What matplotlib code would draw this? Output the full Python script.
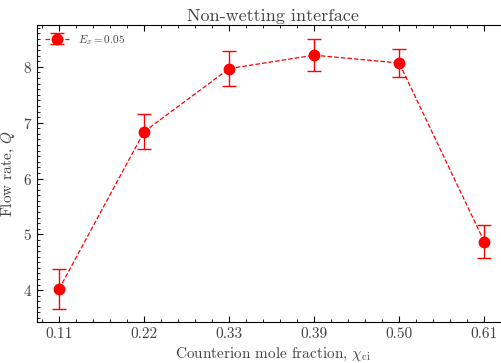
import matplotlib
matplotlib.use('Agg')
import matplotlib.pyplot as plt
from matplotlib.ticker import AutoMinorLocator

plt.rcParams['font.family'] = 'serif'
plt.rcParams['font.serif'] = ['cmr10', 'DejaVu Serif']
plt.rcParams['mathtext.fontset'] = 'cm'
plt.rcParams['axes.formatter.use_mathtext'] = True

# data
fractions = ['0.11', '0.22', '0.33', '0.39', '0.50', '0.61']
flow = [4.02, 6.84, 7.97, 8.21, 8.07, 4.87]
flow_err = [0.36, 0.31, 0.32, 0.29, 0.25, 0.30]

xpos = list(range(len(fractions)))
textcol = '#444444'

fig = plt.figure(figsize=(5.02, 3.63), dpi=100)
ax = fig.add_axes([0.0737, 0.113, 0.94, 0.818])

ax.errorbar(xpos, flow, yerr=flow_err, color='red', ls='--', lw=0.9,
            marker='o', ms=7.5, capsize=5, elinewidth=1.0, capthick=1.0,
            label=r'$E_x = 0.05$')

ax.set_xlim(-0.26, 5.29)
ax.set_ylim(3.43, 8.75)
ax.set_xticks(xpos)
ax.set_xticklabels(fractions)
ax.set_yticks([4, 5, 6, 7, 8])
ax.xaxis.set_minor_locator(AutoMinorLocator(5))
ax.yaxis.set_minor_locator(AutoMinorLocator(10))
ax.tick_params(which='both', direction='in', top=True, right=True,
               labelsize=11, labelcolor=textcol)
ax.tick_params(which='major', length=4)
ax.tick_params(which='minor', length=2)

ax.set_xlabel(r'Counterion mole fraction, $\chi_{\rm ci}$', fontsize=11, color=textcol)
ax.set_ylabel(r'Flow rate, $Q$', fontsize=11, color=textcol)
ax.set_title('Non-wetting interface', fontsize=13, color=textcol, pad=3)

leg = ax.legend(loc='upper left', fontsize=8, frameon=False,
                borderaxespad=0.3, handlelength=2.2, handletextpad=0.8)
for t in leg.get_texts():
    t.set_color(textcol)

fig.savefig('out.png', dpi=100)
